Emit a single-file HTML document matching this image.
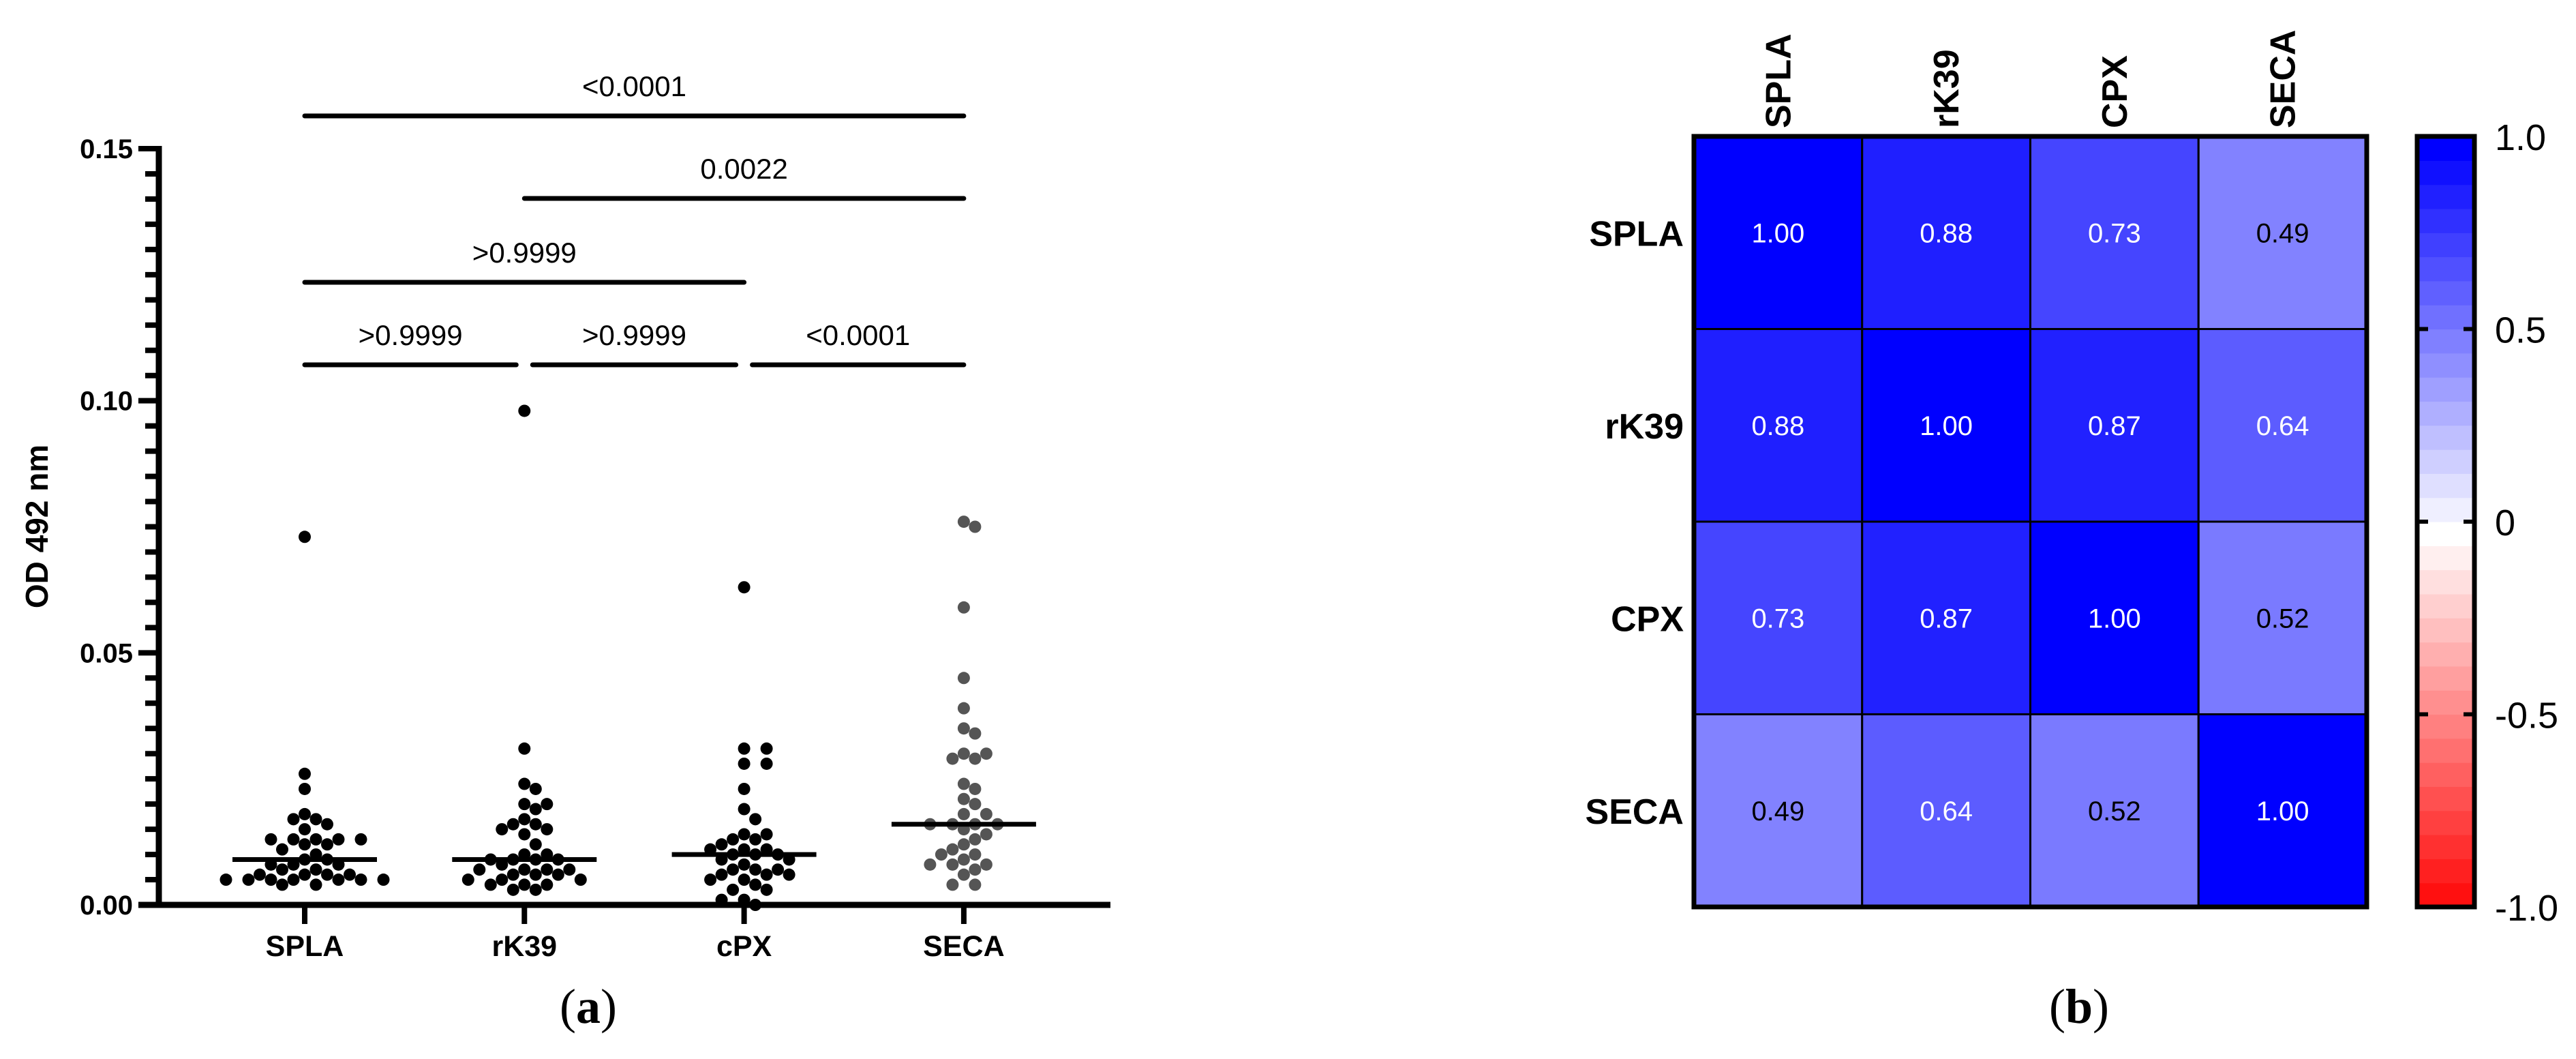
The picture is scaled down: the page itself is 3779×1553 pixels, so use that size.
<!DOCTYPE html>
<html><head><meta charset="utf-8"><style>
html,body{margin:0;padding:0;background:#fff;}
svg{display:block;font-family:"Liberation Sans",Arial,sans-serif;}
</style></head><body>
<svg id="fig" width="3779" height="1553" viewBox="0 0 3779 1553" xmlns="http://www.w3.org/2000/svg">
<g id="panelA"></g>
<g id="panelB"></g>
<text x="863" y="1500" font-family="Liberation Serif, serif" font-size="72" text-anchor="middle">(<tspan font-weight="bold">a</tspan>)</text>
<text x="3050" y="1500" font-family="Liberation Serif, serif" font-size="72" text-anchor="middle">(<tspan font-weight="bold">b</tspan>)</text>
</svg>
<script>
// ---- Panel A data ----
const groups = ["SPLA","rK39","cPX","SECA"];
const splaValues = [0.073,0.026,0.023,0.018,0.017,0.017,0.016,0.015,0.013,0.013,0.013,0.013,0.013,0.012,0.012,0.011,0.010,0.009,0.009,0.008,0.008,0.008,0.007,0.007,0.006,0.006,0.006,0.006,0.005,0.005,0.005,0.005,0.005,0.005,0.005,0.004,0.004];
const rk39Values = [0.098,0.031,0.024,0.023,0.020,0.020,0.019,0.017,0.016,0.016,0.015,0.015,0.014,0.012,0.010,0.010,0.009,0.009,0.009,0.009,0.008,0.007,0.007,0.007,0.007,0.006,0.006,0.006,0.005,0.005,0.005,0.004,0.004,0.004,0.003,0.003];
const cpxValues = [0.063,0.031,0.031,0.028,0.028,0.023,0.019,0.017,0.014,0.014,0.013,0.013,0.012,0.011,0.011,0.011,0.010,0.010,0.010,0.009,0.009,0.008,0.007,0.007,0.007,0.006,0.006,0.006,0.005,0.005,0.004,0.003,0.003,0.001,0.001,0.000];
const secaValues = [0.076,0.075,0.059,0.045,0.039,0.035,0.034,0.030,0.030,0.029,0.029,0.024,0.023,0.021,0.020,0.018,0.018,0.016,0.016,0.016,0.016,0.015,0.014,0.013,0.012,0.011,0.010,0.010,0.009,0.008,0.008,0.008,0.007,0.006,0.004,0.004];
const groupColors = ["#000","#000","#000","#555"];
const yTickLabels = ["0.00","0.05","0.10","0.15"];
const yTickValues = [0,0.05,0.10,0.15];
const sigLabels = ["<0.0001","0.0022",">0.9999",">0.9999",">0.9999","<0.0001"];
const sigFrom = [0,1,0,0,1,2];
const sigTo = [3,3,2,1,2,3];
const sigLevel = [4,3,2,1,1,1];
// ---- Panel B data ----
const hmLabels = ["SPLA","rK39","CPX","SECA"];
const hmColLabels = ["SPLA","rK39","CPX","SECA"];
const corr = [
 [1.00,0.88,0.73,0.49],
 [0.88,1.00,0.87,0.64],
 [0.73,0.87,1.00,0.52],
 [0.49,0.64,0.52,1.00]];
const cbTickLabels = ["1.0","0.5","0","-0.5","-1.0"];
const cbTickValues = [1,0.5,0,-0.5,-1];

const NS="http://www.w3.org/2000/svg";
function mk(tag, attrs, parent){const e=document.createElementNS(NS,tag);for(const k in attrs)e.setAttribute(k,attrs[k]);parent.appendChild(e);return e;}

// ---------- Panel A ----------
const A=document.getElementById('panelA');
const axX=233, axY0=1327, axTop=218, axRight=1629;
const yScale=v=>axY0-(v/0.15)*(axY0-axTop);
const xScale=i=>447+i*322.3;
const series=[splaValues,rk39Values,cpxValues,secaValues];

let yAxis=mk('line',{x1:axX,y1:axTop-4,x2:axX,y2:axY0+4,stroke:'#000','stroke-width':9},A);


let xAxis=mk('line',{x1:axX-30,y1:axY0,x2:axRight,y2:axY0,stroke:'#000','stroke-width':9},A);


for(let k=0;k<=30;k++){
  const v=k*0.005, y=yScale(v), major=(k%10===0);
  let t=mk('line',{x1:major?203:213,y1:y,x2:axX,y2:y,stroke:'#000','stroke-width':8},A);
  
  
}
yTickValues.forEach((v,i)=>{
  let t=mk('text',{x:195,y:yScale(v)+14,'text-anchor':'end','font-size':40,'font-weight':'bold'},A);
  t.textContent=yTickLabels[i];
  
  
});
let yt=mk('text',{x:0,y:0,'text-anchor':'middle','font-size':46,'font-weight':'bold',transform:'translate(70,772) rotate(-90)'},A);
yt.textContent='OD 492 nm';



groups.forEach((g,i)=>{
  const cx=xScale(i);
  let t=mk('line',{x1:cx,y1:axY0,x2:cx,y2:1355,stroke:'#000','stroke-width':8},A);
  
  
  let l=mk('text',{x:cx,y:1402,'text-anchor':'middle','font-size':43,'font-weight':'bold'},A);
  l.textContent=g;
  
  
});

// beeswarm (same-value rows use double spacing, neighbouring rows interleave)
const R=9, D=17, STEP=16.5;
series.forEach((vals,gi)=>{
  const cx=xScale(gi);
  const pts=vals.map(v=>({v,y:yScale(v)})).sort((a,b)=>a.y-b.y);
  const placed=[];
  pts.forEach(p=>{
    let best=0;
    for(let s=0;s<60;s++){
      const cands=s===0?[0]:[s*STEP,-s*STEP];
      let found=null;
      for(const off of cands){
        const ok=placed.every(q=>{
          const dx=Math.abs(q.x-off), dy=Math.abs(q.y-p.y);
          if(dy<1 && dx<2*STEP-0.5) return false;
          return Math.hypot(dx,dy)>=D-0.5;
        });
        if(ok){found=off;break;}
      }
      if(found!==null){best=found;break;}
    }
    placed.push({x:best,y:p.y});
    let c=mk('circle',{cx:cx+best,cy:p.y,r:R,fill:groupColors[gi]},A);
    
    
  });
  const s=[...vals].sort((a,b)=>a-b), n=s.length;
  const med=n%2?s[(n-1)/2]:(s[n/2-1]+s[n/2])/2;
  let m=mk('line',{x1:cx-106,y1:yScale(med),x2:cx+106,y2:yScale(med),stroke:'#000','stroke-width':7},A);
  
  
});

const levelY=[0,535,414,291,170];
sigLabels.forEach((lab,i)=>{
  const y=levelY[sigLevel[i]];
  let x1=xScale(sigFrom[i]), x2=xScale(sigTo[i]);
  if(sigLevel[i]===1){ if(sigFrom[i]>0) x1+=12; if(sigTo[i]<3) x2-=12; }
  let b=mk('line',{x1,y1:y,x2,y2:y,stroke:'#000','stroke-width':7,'stroke-linecap':'round'},A);
  
  
  let t=mk('text',{x:(x1+x2)/2,y:y-29,'text-anchor':'middle','font-size':42},A);
  t.textContent=lab;
  
  
});

// ---------- Panel B ----------
const B=document.getElementById('panelB');
const gx0=2485, gy0=200, cw=(3472-2485)/4, ch=(1330-200)/4;
const col=v=>{const a=Math.round((1-Math.abs(v))*255);return v>=0?`rgb(${a},${a},255)`:`rgb(255,${a},${a})`;};
corr.forEach((row,r)=>{
  row.forEach((v,c)=>{
    let rc=mk('rect',{x:gx0+c*cw,y:gy0+r*ch,width:cw,height:ch,fill:col(v),stroke:'#000','stroke-width':3},B);
    
    
    let t=mk('text',{x:gx0+(c+0.5)*cw,y:gy0+(r+0.5)*ch+14,'text-anchor':'middle','font-size':40,fill:v>0.6?'#fff':'#000'},B);
    t.textContent=v.toFixed(2);
    
    
  });
});
let border=mk('rect',{x:gx0,y:gy0,width:cw*4,height:ch*4,fill:'none',stroke:'#000','stroke-width':7},B);


hmLabels.forEach((lab,r)=>{
  let t=mk('text',{x:2470,y:gy0+(r+0.5)*ch+19,'text-anchor':'end','font-size':52,'font-weight':'bold'},B);
  t.textContent=lab;
  
  
});
hmColLabels.forEach((lab,c)=>{
  const x=gx0+(c+0.5)*cw+18;
  let t=mk('text',{x:0,y:0,'font-size':52,'font-weight':'bold',transform:`translate(${x},188) rotate(-90)`},B);
  t.textContent=lab;
  
  
});
const cbx=3546, cbw=84, cbTop=200, cbBot=1330;
const cbY=v=>cbTop+(1-v)/2*(cbBot-cbTop);
for(let k=-16;k<16;k++){
  const vTop=(k+1)/16, vBot=k/16;
  let b=mk('rect',{x:cbx,y:cbY(vTop),width:cbw,height:cbY(vBot)-cbY(vTop)+0.6,fill:col(vTop)},B);
  
  
}
let cbb=mk('rect',{x:cbx,y:cbTop,width:cbw,height:cbBot-cbTop,fill:'none',stroke:'#000','stroke-width':7},B);


cbTickValues.forEach((v,i)=>{
  const y=cbY(v);
  if(i>0&&i<cbTickValues.length-1){
    let t1=mk('line',{x1:cbx,y1:y,x2:cbx+16,y2:y,stroke:'#000','stroke-width':6},B);
    
    
    let t2=mk('line',{x1:cbx+cbw-16,y1:y,x2:cbx+cbw,y2:y,stroke:'#000','stroke-width':6},B);
    
    
  }
  let l=mk('text',{x:3660,y:y+20,'font-size':54},B);
  l.textContent=cbTickLabels[i];
  
  
});
</script>
</body></html>
